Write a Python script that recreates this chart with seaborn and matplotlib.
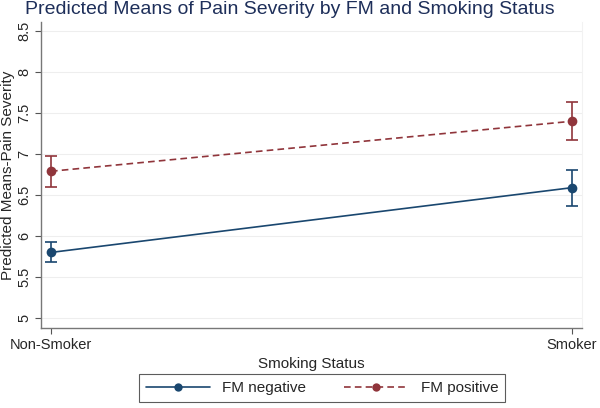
import pandas as pd
import matplotlib.pyplot as plt
import seaborn as sns

# Predicted means with 95% CIs
status = ["Non-Smoker", "Smoker"]
fm_negative = [5.80, 6.59]
fm_negative_lo = [5.68, 6.37]
fm_negative_hi = [5.93, 6.81]
fm_positive = [6.79, 7.40]
fm_positive_lo = [6.60, 7.17]
fm_positive_hi = [6.98, 7.63]
yticks = [5, 5.5, 6, 6.5, 7, 7.5, 8, 8.5]

df = pd.DataFrame({
    "pos": [0, 1, 0, 1],
    "status": status * 2,
    "mean": fm_negative + fm_positive,
    "lo": fm_negative_lo + fm_positive_lo,
    "hi": fm_negative_hi + fm_positive_hi,
    "group": ["FM negative"] * 2 + ["FM positive"] * 2,
})

sns.set_style("white")
plt.rcParams['font.family'] = ['Liberation Sans', 'DejaVu Sans']

colors = {"FM negative": "#1a476f", "FM positive": "#90353b"}

fig = plt.figure(figsize=(6, 4.08), dpi=100, facecolor='white')
ax = fig.add_axes([0.0683, 0.196, 0.9017, 0.75])

sns.lineplot(data=df, x="pos", y="mean", hue="group", style="group",
             palette=colors, dashes={"FM negative": "", "FM positive": (4, 2.5)},
             markers={"FM negative": "o", "FM positive": "o"}, markersize=7,
             markeredgewidth=0, linewidth=1.2, ax=ax, legend=False)

for g, sub in df.groupby("group"):
    ax.errorbar(sub["pos"], sub["mean"],
                yerr=[sub["mean"] - sub["lo"], sub["hi"] - sub["mean"]],
                fmt='none', ecolor=colors[g], elinewidth=1.2, capsize=4, capthick=1.2)

ax.set_xlim(-0.0192, 1.0192)
ax.set_ylim(4.878, 8.61)
ax.set_xticks([0, 1])
ax.set_xticklabels(status, fontsize=10.5)
ax.set_yticks(yticks)
ax.set_yticklabels([f"{t:g}" for t in yticks], rotation=90, va='center', fontsize=10.5)
ax.tick_params(axis='both', length=4, width=0.8, color='#555555', direction='out', pad=3)
ax.tick_params(left=True, bottom=True)

ax.grid(axis='y', color='#eeeeee', linewidth=0.8)
for s in ['left', 'bottom']:
    ax.spines[s].set_color('#777777')
    ax.spines[s].set_linewidth(1.0)
ax.spines['top'].set_visible(False)
ax.spines['right'].set_color('#f2f2f2')

ax.set_xlabel("Smoking Status", fontsize=11, labelpad=4)
ax.set_ylabel("Predicted Means-Pain Severity", fontsize=11, labelpad=1.5)

fig.text(25 / 600, 0.998, "Predicted Means of Pain Severity by FM and Smoking Status",
         fontsize=14, color='#1e2f5a', ha='left', va='top')

handles = [
    plt.Line2D([], [], color=colors["FM negative"], marker='o', markersize=6,
               markeredgewidth=0, linewidth=1.2),
    plt.Line2D([], [], color=colors["FM positive"], marker='o', markersize=6,
               markeredgewidth=0, linewidth=1.2, linestyle=(0, (4, 2.5))),
]
leg = fig.legend(handles, ["FM negative", "FM positive"], loc='center',
                 bbox_to_anchor=(322 / 600, 1 - 388 / 408), ncol=2, fontsize=11,
                 frameon=True, fancybox=False, edgecolor='#333333',
                 handlelength=4.2, columnspacing=2.5, borderpad=0.45)
leg.get_frame().set_linewidth(0.8)

fig.savefig("out.png", dpi=100, facecolor='white')
